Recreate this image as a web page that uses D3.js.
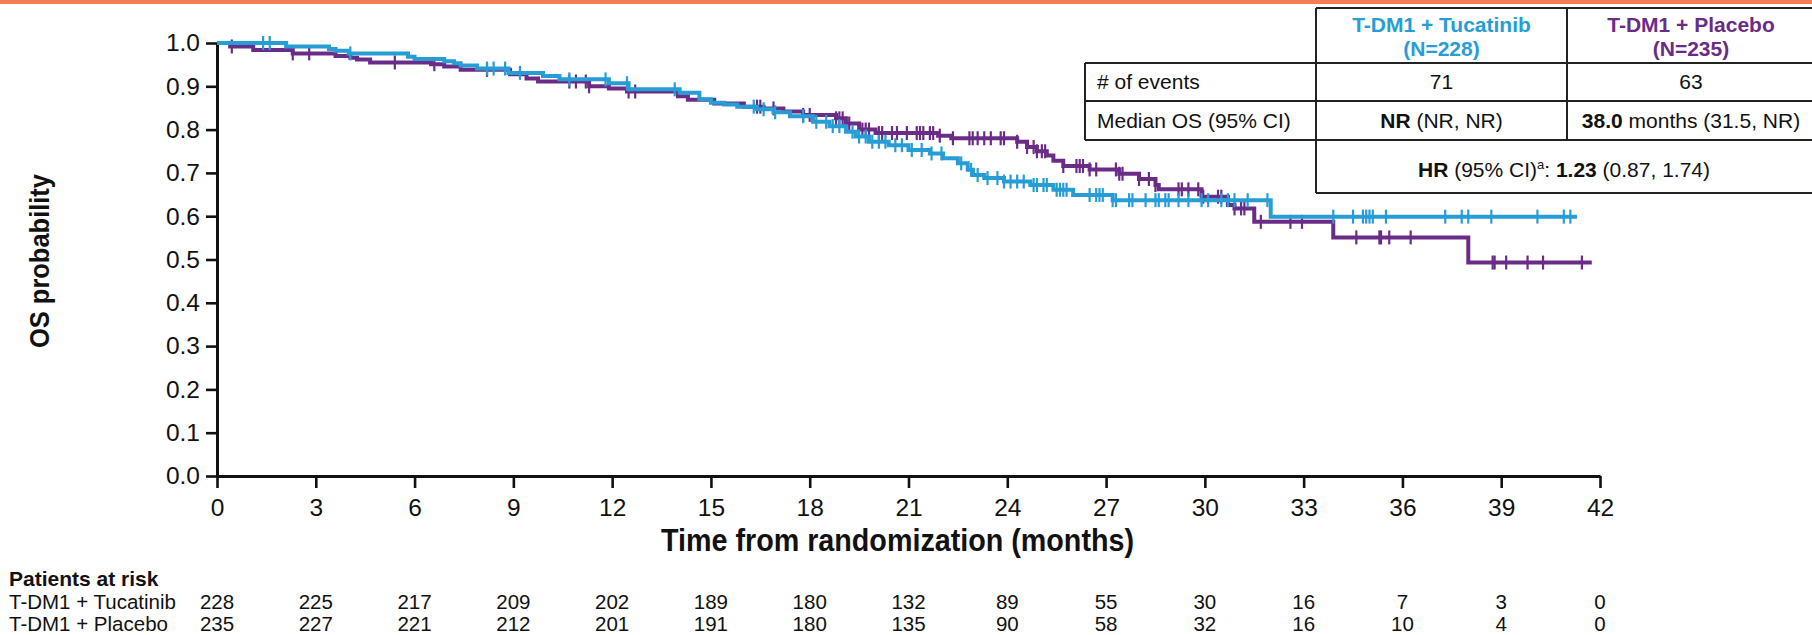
<!DOCTYPE html>
<html>
<head>
<meta charset="utf-8">
<script src="https://cdn.jsdelivr.net/npm/d3@7"></script>
<style>
body { margin: 0; background: #fff; }
text { font-family: "Liberation Sans", Arial, sans-serif; fill: #111; }
</style>
</head>
<body>
<div id="chart"></div>
<script>
var w = 1812
var h = 635
var tuc_color = "#279dd6"
var pla_color = "#6a2c87"

// x ticks (months) and y ticks
var months = [0, 3, 6, 9, 12, 15, 18, 21, 24, 27, 30, 33, 36, 39, 42]
var probs = [0, 0.1, 0.2, 0.3, 0.4, 0.5, 0.6, 0.7, 0.8, 0.9, 1.0]

// KM steps: [time, survival after drop]
var tuc_steps = [[0,1.0],[2.1,0.992],[3.4,0.986],[3.6,0.982],[4.0,0.976],[5.8,0.968],[6.0,0.963],[6.9,0.958],[7.2,0.953],[7.4,0.948],[7.9,0.941],[8.85,0.931],[9.9,0.924],[10.4,0.916],[11.9,0.907],[12.5,0.893],[14.05,0.885],[14.65,0.870],[15.0,0.862],[15.4,0.858],[15.8,0.853],[16.4,0.847],[16.9,0.840],[17.4,0.831],[18.1,0.818],[18.6,0.808],[19.1,0.795],[19.4,0.784],[19.8,0.772],[20.4,0.764],[21.0,0.753],[21.65,0.745],[22.05,0.734],[22.5,0.722],[22.8,0.707],[22.96,0.695],[23.3,0.688],[23.9,0.680],[24.7,0.672],[25.4,0.661],[26.0,0.649],[27.2,0.637],[32.0,0.599]]
var tuc_end = 41.3
var tuc_cens = [1.4,1.6,4.05,8.2,8.4,8.75,9.2,10.7,11.8,12.45,13.9,16.3,16.6,16.95,17.8,18.2,18.5,18.7,18.9,19.3,19.5,19.7,19.9,20.1,20.3,20.6,20.8,21.1,21.4,21.7,22.0,22.6,22.9,23.1,23.4,23.7,23.9,24.1,24.3,24.5,24.8,24.9,25.1,25.2,25.5,25.6,25.7,25.8,26.5,26.7,26.8,26.9,27.2,27.3,27.7,27.8,28.2,28.5,28.6,28.8,28.9,29.2,29.5,29.9,30.1,30.5,30.7,30.9,31.3,31.9,33.9,34.5,34.8,34.9,35.0,35.1,35.5,37.3,37.8,38.0,38.7,40.1,40.9,41.1]

var pla_steps = [[0,1.0],[0.4,0.992],[1.1,0.984],[2.3,0.976],[3.6,0.970],[4.05,0.966],[4.25,0.962],[4.65,0.955],[6.5,0.951],[6.9,0.946],[7.4,0.938],[8.9,0.928],[9.4,0.918],[9.75,0.911],[11.3,0.900],[11.9,0.895],[12.45,0.888],[14.0,0.877],[14.3,0.869],[15.1,0.860],[16.0,0.853],[16.6,0.849],[17.2,0.842],[17.8,0.834],[18.8,0.826],[19.1,0.814],[19.5,0.800],[20.0,0.792],[21.9,0.786],[22.3,0.780],[24.3,0.772],[24.6,0.760],[24.9,0.750],[25.2,0.740],[25.4,0.728],[25.7,0.716],[26.5,0.708],[27.4,0.698],[28.0,0.686],[28.5,0.672],[28.6,0.662],[29.9,0.645],[30.7,0.626],[30.9,0.618],[31.5,0.587],[33.9,0.551],[38.0,0.493]]
var pla_end = 41.75
var pla_cens = [0.45,2.3,2.8,5.4,6.6,8.2,10.7,10.9,11.2,11.3,12.5,12.7,16.4,16.5,16.9,17.8,18.0,18.8,18.9,19.0,19.2,19.6,19.7,19.8,20.1,20.2,20.5,20.65,20.95,21.25,21.35,21.45,21.65,21.75,21.95,22.35,22.85,22.95,23.1,23.3,23.5,23.8,23.9,24.3,24.6,24.8,24.9,25.05,25.15,25.7,26.1,26.2,26.3,26.5,26.7,27.3,27.4,27.5,28.0,28.3,28.5,29.2,29.3,29.5,29.8,29.95,30.4,30.5,30.9,31.1,31.2,31.7,32.6,32.95,34.6,35.3,35.35,35.6,36.25,38.74,38.8,39.15,39.8,40.27,41.45]

// patients at risk
var risk_labels = ["T-DM1 + Tucatinib", "T-DM1 + Placebo"]
var risk_tuc = [228,225,217,209,202,189,180,132,89,55,30,16,7,3,0]
var risk_pla = [235,227,221,212,201,191,180,135,90,58,32,16,10,4,0]

var left_margin = 217
var right_x = 1600
var top_y = 43
var bottom_y = 476

var svg = d3.select("#chart").append("svg")
  .attr("width", w)
  .attr("height", h)

// orange band at the top
svg.append("rect").attr("x", 0).attr("y", 0).attr("width", w).attr("height", 4).attr("fill", "#f47c57")

var x = d3.scaleLinear().domain([0, 42]).range([left_margin, right_x])
var y = d3.scaleLinear().domain([0, 1]).range([bottom_y, top_y])

var x_axis = d3.axisBottom(x).tickValues(months).tickSize(12).tickSizeOuter(0).tickPadding(11)
var y_axis = d3.axisLeft(y).tickValues(probs).tickFormat(d3.format(".1f")).tickSize(11).tickSizeOuter(0).tickPadding(6)

var gx = svg.append("g").attr("transform", "translate(0," + bottom_y + ")").call(x_axis)
var gy = svg.append("g").attr("transform", "translate(" + left_margin + ",0)").call(y_axis)

;[gx, gy].forEach(function(g){
  g.select(".domain").attr("stroke", "#111").attr("stroke-width", 3)
  g.selectAll(".tick line").attr("stroke", "#111").attr("stroke-width", 2.6)
  g.selectAll(".tick text").attr("font-size", 24.5).attr("fill", "#111").style("font-family", "'Liberation Sans', Arial, sans-serif")
})

// axis titles
svg.append("text")
  .attr("x", (left_margin + right_x) / 2 - 11)
  .attr("y", 551)
  .attr("text-anchor", "middle")
  .attr("font-size", 31)
  .attr("font-weight", "bold")
  .attr("textLength", 473)
  .attr("lengthAdjust", "spacingAndGlyphs")
  .text("Time from randomization (months)")

svg.append("text")
  .attr("transform", "translate(49,261) rotate(-90)")
  .attr("text-anchor", "middle")
  .attr("font-size", 28)
  .attr("font-weight", "bold")
  .attr("textLength", 174)
  .attr("lengthAdjust", "spacingAndGlyphs")
  .text("OS probability")

// survival at t for censor marks
var survAt = function(steps, t) {
  var s = 1
  for (var i = 0; i < steps.length; i++) {
    if (steps[i][0] <= t) s = steps[i][1]
  }
  return s
}

var line = d3.line()
  .x(function(d){ return x(d[0]) })
  .y(function(d){ return y(d[1]) })
  .curve(d3.curveStepAfter)

var arms = [
  {steps: pla_steps, end: pla_end, cens: pla_cens, color: pla_color},
  {steps: tuc_steps, end: tuc_end, cens: tuc_cens, color: tuc_color}
]

arms.forEach(function(a){
  var pts = a.steps.concat([[a.end, a.steps[a.steps.length-1][1]]])
  svg.append("path")
    .datum(pts)
    .attr("d", line)
    .attr("fill", "none")
    .attr("stroke", a.color)
    .attr("stroke-width", 4)

  svg.append("g").selectAll("line")
    .data(a.cens)
    .enter().append("line")
    .attr("x1", function(d){ return x(d) })
    .attr("x2", function(d){ return x(d) })
    .attr("y1", function(d){ return y(survAt(a.steps, d)) - 7 })
    .attr("y2", function(d){ return y(survAt(a.steps, d)) + 7 })
    .attr("stroke", a.color)
    .attr("stroke-width", 2.2)
})

// patients at risk
svg.append("text").attr("x", 9).attr("y", 586).attr("font-size", 21).attr("font-weight", "bold").text("Patients at risk")
var risk_rows = [risk_tuc, risk_pla]
risk_rows.forEach(function(row, i){
  var yy = 609 + i * 21.5
  svg.append("text").attr("x", 9).attr("y", yy).attr("font-size", 20.5).text(risk_labels[i])
  svg.append("g").selectAll("text")
    .data(row)
    .enter().append("text")
    .attr("x", function(d, j){ return x(months[j]) })
    .attr("y", yy)
    .attr("text-anchor", "middle")
    .attr("font-size", 20.5)
    .text(function(d){ return d })
})

// summary table
var tbl = svg.append("g").attr("class", "tbl")
var c0 = 1085, c1 = 1316, c2 = 1567, c3 = 1830
var r0 = 8, r1 = 63, r2 = 101, r3 = 140, r4 = 193
var lines = [
  [c1, r0, c3, r0], [c0, r1, c3, r1], [c0, r2, c3, r2], [c0, r3, c3, r3], [c1, r4, c3, r4],
  [c0, r1, c0, r3], [c1, r0, c1, r4], [c2, r0, c2, r3]
]
tbl.selectAll("line").data(lines).enter().append("line")
  .attr("x1", function(d){ return d[0] }).attr("y1", function(d){ return d[1] })
  .attr("x2", function(d){ return d[2] }).attr("y2", function(d){ return d[3] })
  .attr("stroke", "#222").attr("stroke-width", 2)

var m1 = (c1 + c2) / 2, m2 = (c2 + 1815) / 2
var hdr = [
  {x: m1, t1: "T-DM1 + Tucatinib", t2: "(N=228)", color: tuc_color},
  {x: m2, t1: "T-DM1 + Placebo", t2: "(N=235)", color: pla_color}
]
hdr.forEach(function(d){
  tbl.append("text").attr("x", d.x).attr("y", 32).attr("text-anchor", "middle").attr("font-size", 21)
    .attr("font-weight", "bold").style("fill", d.color).text(d.t1)
  tbl.append("text").attr("x", d.x).attr("y", 56).attr("text-anchor", "middle").attr("font-size", 21)
    .attr("font-weight", "bold").style("fill", d.color).text(d.t2)
})

tbl.append("text").attr("x", c0 + 12).attr("y", 89).attr("font-size", 21).text("# of events")
tbl.append("text").attr("x", m1).attr("y", 89).attr("text-anchor", "middle").attr("font-size", 21).text("71")
tbl.append("text").attr("x", m2).attr("y", 89).attr("text-anchor", "middle").attr("font-size", 21).text("63")

tbl.append("text").attr("x", c0 + 12).attr("y", 128).attr("font-size", 21).text("Median OS (95% CI)")
var t1 = tbl.append("text").attr("x", m1).attr("y", 128).attr("text-anchor", "middle").attr("font-size", 21)
t1.append("tspan").attr("font-weight", "bold").text("NR")
t1.append("tspan").text(" (NR, NR)")
var t2 = tbl.append("text").attr("x", m2).attr("y", 128).attr("text-anchor", "middle").attr("font-size", 21)
t2.append("tspan").attr("font-weight", "bold").text("38.0")
t2.append("tspan").text(" months (31.5, NR)")

var hr = tbl.append("text").attr("x", 1564).attr("y", 177).attr("text-anchor", "middle").attr("font-size", 21)
hr.append("tspan").attr("font-weight", "bold").text("HR")
hr.append("tspan").text(" (95% CI)")
hr.append("tspan").attr("font-size", 13).attr("dy", -8).text("a")
hr.append("tspan").attr("dy", 8).text(": ")
hr.append("tspan").attr("font-weight", "bold").text("1.23")
hr.append("tspan").text(" (0.87, 1.74)")
</script>
</body>
</html>
